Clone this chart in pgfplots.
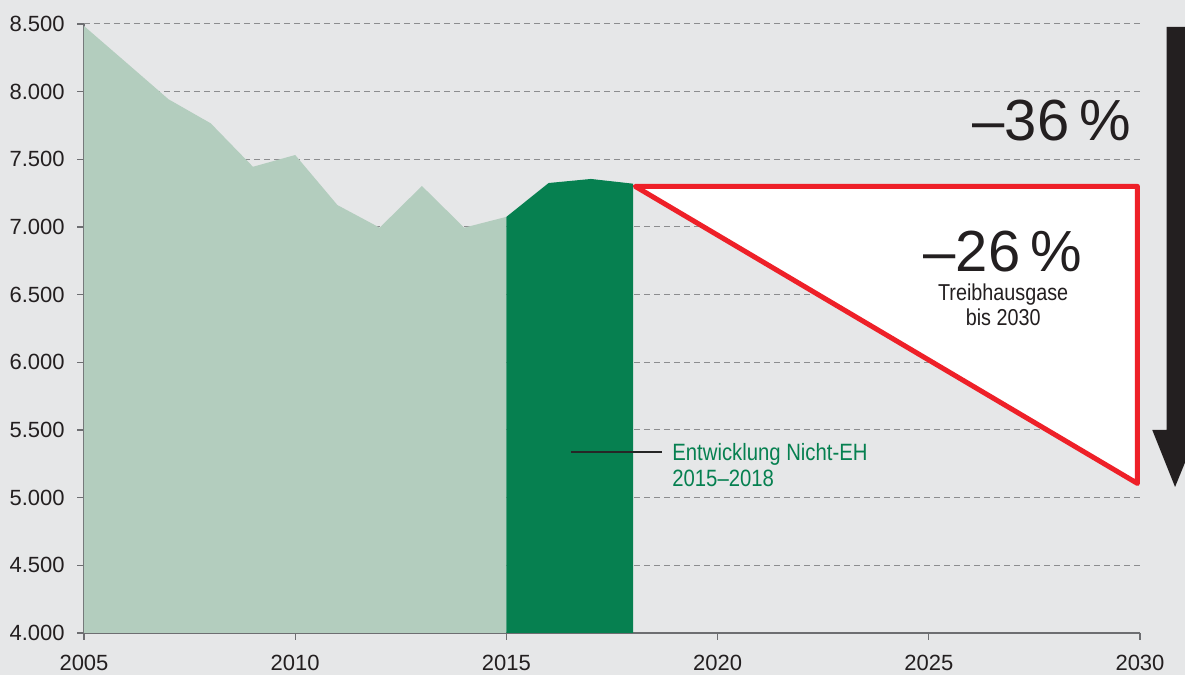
\documentclass[border=0pt]{standalone}
\usepackage{pgfplots}
\pgfplotsset{compat=1.18}
\usepackage{fontspec}
\setmainfont{Liberation Sans}
\newfontfamily\condfont[FakeStretch=0.86]{Liberation Sans}
\definecolor{bgc}{HTML}{E6E7E8}
\definecolor{lightg}{HTML}{B3CDBE}
\definecolor{darkg}{HTML}{068050}
\definecolor{redc}{HTML}{EE2028}
\definecolor{arrowc}{HTML}{231F20}
\definecolor{txtc}{HTML}{231F20}
\definecolor{axisgray}{HTML}{6D6E71}
\definecolor{gridgray}{HTML}{8C8D8F}
\pgfplotsset{
  layers/mylayers/.define layer set={axis background,axis grid,main,axis ticks,axis lines,axis tick labels,axis descriptions,axis foreground}{},
}
\begin{document}
\begin{tikzpicture}
\fill[bgc] (-42pt,-21pt) rectangle (550.5pt,316.5pt);
\begin{axis}[
  set layers=mylayers,
  at={(0,0)}, anchor=south west,
  width=528pt, height=304.5pt, scale only axis,
  xmin=2005, xmax=2030, ymin=4000, ymax=8500,
  axis x line*=bottom, axis y line*=left,
  axis line style={draw=axisgray, line width=0.7pt, -},
  xtick={2005,2010,2015,2020,2025,2030},
  xticklabels={2005,2010,2015,2020,2025,2030},
  ytick={4000,4500,5000,5500,6000,6500,7000,7500,8000,8500},
  yticklabels={4.000,4.500,5.000,5.500,6.000,6.500,7.000,7.500,8.000,8.500},
  tick align=outside, major tick length=3.5pt,
  tick style={draw=axisgray, line width=0.6pt},
  ymajorgrids,
  grid style={draw=gridgray, dash pattern=on 3pt off 2pt, line width=0.5pt},
  ticklabel style={font=\fontsize{11}{13}\selectfont, text=txtc, inner sep=0pt},
  xticklabel style={yshift=-7.5pt},
  yticklabel style={xshift=-6pt},
  clip=false,
]
% light green area 2005-2015
\addplot[fill=lightg, draw=none] coordinates {
  (2005,4000) (2005,8485) (2006,8215) (2007,7944) (2008,7766) (2009,7445)
  (2010,7532) (2011,7162) (2012,6995) (2013,7303) (2014,6995) (2015,7075)
  (2015,4000)} -- cycle;
% dark green area 2015-2018
\addplot[fill=darkg, draw=none] coordinates {
  (2015,4000) (2015,7075) (2016,7325) (2017,7355) (2018,7320) (2018,4000)} -- cycle;
% target triangle
\addplot[draw=redc, line width=2.5pt, fill=white, line join=round] coordinates {
  (2018.05,7300) (2029.94,7300) (2029.94,5105)} -- cycle;
% arrow
\addplot[fill=arrowc, draw=none] coordinates {
  (2030.63,8478) (2031.1,8478) (2031.1,5500) (2031.38,5500)
  (2030.83,5079) (2030.29,5500) (2030.63,5500)} -- cycle;
\node[anchor=east, inner sep=0pt, text=txtc, font=\fontsize{29}{29}\selectfont]
  at (axis cs:2029.79,7783) {–36\,\%};
\node[anchor=east, inner sep=0pt, text=txtc, font=\fontsize{29}{29}\selectfont]
  at (axis cs:2028.63,6815) {–26\,\%};
\node[align=center, inner sep=0pt, text=txtc, font=\condfont\fontsize{11.5}{12.5}\selectfont]
  at (axis cs:2026.76,6427) {Treibhausgase\\bis 2030};
\node[anchor=west, align=left, inner sep=0pt, text=darkg, font=\condfont\fontsize{11.8}{13}\selectfont]
  at (axis cs:2018.92,5242) {Entwicklung Nicht-EH\\2015–2018};
\draw[black!85, line width=0.6pt] (axis cs:2016.53,5338) -- (axis cs:2018.68,5338);
\end{axis}
\pgfresetboundingbox
\path[use as bounding box] (-42pt,-21pt) rectangle (550.5pt,316.5pt);
\end{tikzpicture}
\end{document}
